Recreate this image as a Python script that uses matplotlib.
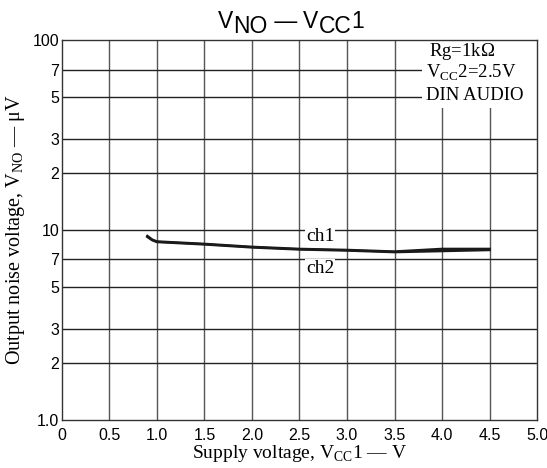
import matplotlib.pyplot as plt
from matplotlib.patches import Rectangle

plt.rcParams['mathtext.fontset'] = 'custom'
plt.rcParams['mathtext.rm'] = 'Liberation Serif'
plt.rcParams['mathtext.sf'] = 'Liberation Sans'

# supply voltage Vcc1 (V)
vcc1 = [0.9, 0.95, 1.0, 1.5, 2.0, 2.5, 3.0, 3.5, 4.0, 4.5]
# output noise voltage (uV)
ch1 = [9.3, 8.9, 8.7, 8.45, 8.15, 7.95, 7.85, 7.7, 7.95, 7.95]
ch2 = [9.2, 8.85, 8.65, 8.4, 8.1, 7.9, 7.8, 7.65, 7.75, 7.85]

x_ticks = [0, 0.5, 1.0, 1.5, 2.0, 2.5, 3.0, 3.5, 4.0, 4.5, 5.0]
x_labels = ['0', '0.5', '1.0', '1.5', '2.0', '2.5', '3.0', '3.5', '4.0', '4.5', '5.0']
y_ticks = [1, 2, 3, 5, 7, 10, 20, 30, 50, 70, 100]
y_labels = ['1.0', '2', '3', '5', '7', '10', '2', '3', '5', '7', '100']

serif = 'Liberation Serif'
sans = 'Liberation Sans'

fig = plt.figure(figsize=(5.47, 4.68), dpi=100)
ax = fig.add_axes([0.113, 0.103, 0.869, 0.811])

ax.set_yscale('log')
ax.set_xlim(0, 5)
ax.set_ylim(1, 100)
ax.set_xticks(x_ticks)
ax.set_xticklabels(x_labels, fontfamily=sans, fontsize=11.5)
ax.set_yticks(y_ticks)
ax.set_yticklabels(y_labels, fontfamily=sans, fontsize=11.5)
ax.minorticks_off()
ax.tick_params(axis='x', length=0, pad=6)
ax.tick_params(axis='y', length=0, pad=2)

for xv in x_ticks[1:-1]:
    ax.axvline(xv, color='#555555', lw=1.0, zorder=1)
for yv in y_ticks[1:-1]:
    ax.axhline(yv, color='#222222', lw=1.0, zorder=1)
for s in ax.spines.values():
    s.set_color('#333333')
    s.set_linewidth(1.0)
    s.set_zorder(5)

ax.plot(vcc1, ch1, color='#1a1a1a', lw=1.8, zorder=3)
ax.plot(vcc1, ch2, color='#1a1a1a', lw=1.8, zorder=3)

box = dict(facecolor='white', edgecolor='none', pad=0.5)
ax.text(2.72, 9.3, 'ch1', fontfamily=serif, fontsize=14, ha='center', va='center', bbox=box, zorder=4)
ax.text(2.72, 6.3, 'ch2', fontfamily=serif, fontsize=14, ha='center', va='center', bbox=box, zorder=4)

# white panel behind the conditions text
ax.add_patch(Rectangle((3.79, 44), 1.21, 56, facecolor='white', edgecolor='none', zorder=2))
ax.text(3.86, 87, r'Rg=1k$\Omega$', fontfamily=serif, fontsize=13.5, ha='left', va='center', zorder=4)
ax.text(3.83, 67, r'V$_{\mathrm{CC}}$2=2.5V', fontfamily=serif, fontsize=13.5, ha='left', va='center', zorder=4)
ax.text(3.83, 51, 'DIN AUDIO', fontfamily=serif, fontsize=13.5, ha='left', va='center', zorder=4)

# title with full-size lowered subscripts (baseline in pixels from top)
fig.canvas.draw()
renderer = fig.canvas.get_renderer()
pieces = [('V', 0), ('NO', 5), (' — ', 0), ('V', 0), ('CC', 5), ('1', 0)]
x0 = 218
for txt, drop in pieces:
    t = fig.text(x0 / 547, 1 - (28 + drop) / 468, txt, fontfamily=sans, fontsize=16.5,
                 ha='left', va='baseline')
    x0 += t.get_window_extent(renderer).width

ax.set_xlabel(r'Supply voltage, V$_{\mathrm{CC}}$1 — V', fontfamily=serif, fontsize=14, labelpad=0)
ax.set_ylabel('Output noise voltage, V$_{\\mathrm{NO}}$ — \u03bcV', fontfamily=serif, fontsize=14.5, labelpad=4)

fig.savefig('out.png', dpi=100)
